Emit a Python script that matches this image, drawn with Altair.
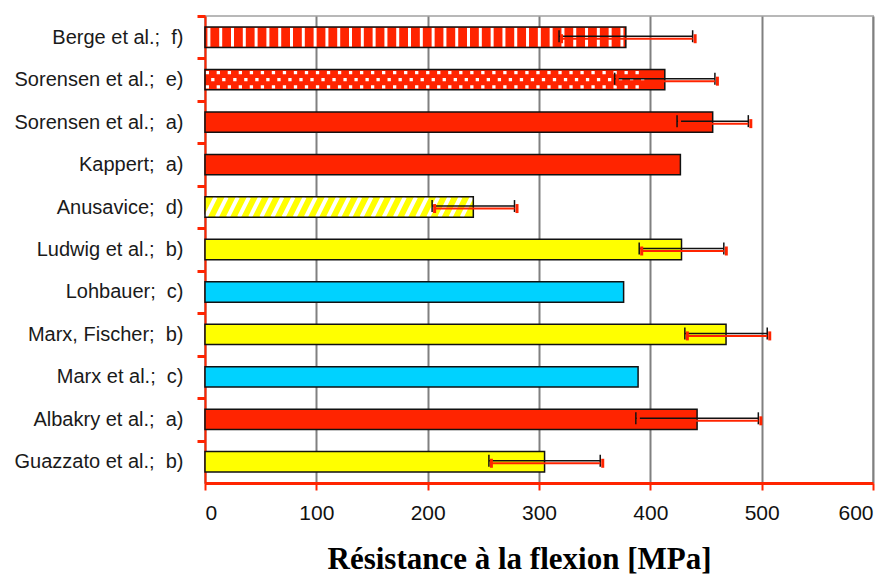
import altair as alt
import pandas as pd

# Flexural strength by study (MPa), listed top to bottom
labels = [
    "Berge et al.;\u00a0 f)",
    "Sorensen et al.;\u00a0 e)",
    "Sorensen et al.;\u00a0 a)",
    "Kappert;\u00a0 a)",
    "Anusavice;\u00a0 d)",
    "Ludwig et al.;\u00a0 b)",
    "Lohbauer;\u00a0 c)",
    "Marx, Fischer;\u00a0 b)",
    "Marx et al.;\u00a0 c)",
    "Albakry et al.;\u00a0 a)",
    "Guazzato et al.;\u00a0 b)",
]
values = [378, 413, 456, 427, 241, 428, 376, 468, 389, 442, 305]
errors = [60, 45, 32, None, 37, 38, None, 37, None, 55, 50]
fills = ["#FF2400", "#FF2400", "#FF2400", "#FF2400", "#FFFF00", "#FFFF00",
         "#00D2FF", "#FFFF00", "#00D2FF", "#FF2400", "#FFFF00"]
patterns = ["stripes", "dots", "", "", "diagonal", "", "", "", "", "", ""]

df = pd.DataFrame({
    "label": labels,
    "value": values,
    "err": errors,
    "fill": fills,
    "pattern": patterns,
})
df["lo"] = df["value"] - df["err"]
df["hi"] = df["value"] + df["err"]

PLOT_H = 467
STEP = PLOT_H / len(labels)

y_enc = alt.Y(
    "label:N",
    sort=labels,
    scale=alt.Scale(paddingInner=0.52, paddingOuter=0.26),
    axis=alt.Axis(
        title=None,
        domainColor="#FF2400",
        domainWidth=2,
        tickColor="#FF2400",
        tickWidth=3,
        tickSize=8,
        tickOffset=-STEP / 2,
        labelOffset=STEP / 2,
        labelFont="Liberation Sans",
        labelFontSize=20,
        labelColor="#1a1a1a",
        labelPadding=14,
        grid=False,
    ),
)
x_scale = alt.Scale(domain=[0, 600], nice=False)
x_enc = alt.X(
    "value:Q",
    scale=x_scale,
    axis=alt.Axis(
        values=[0, 100, 200, 300, 400, 500, 600],
        title="Résistance à la flexion [MPa]",
        titleFont="Liberation Serif",
        titleFontSize=31,
        titleFontWeight="bold",
        titleColor="black",
        titleX=314,
        titleY=85,
        titleBaseline="alphabetic",
        titleAnchor="middle",
        labelFont="Liberation Sans",
        labelFontSize=21,
        labelColor="#111111",
        labelPadding=12,
        domainColor="#FF2400",
        domainWidth=3,
        tickColor="#FF2400",
        tickWidth=2,
        tickSize=7,
        grid=True,
        gridColor="#808080",
        gridWidth=2,
    ),
)

base = alt.Chart(df)
y_plain = alt.Y("label:N", sort=labels)

bars = base.mark_bar(strokeWidth=0).encode(
    x=x_enc,
    y=y_enc,
    color=alt.Color("fill:N", scale=None),
)

# Vertical white stripes
stripes = (
    base.transform_filter("datum.pattern == 'stripes'")
    .transform_calculate(pos="sequence(3.5, datum.value - 2, 10.6)")
    .transform_flatten(["pos"])
    .mark_point(shape="M0,-1L0,1", size=361, stroke="white", strokeWidth=3,
                filled=False, opacity=1)
    .encode(x=alt.X("pos:Q", scale=x_scale), y=y_plain)
)

# White dot texture, three staggered rows
dots = (
    base.transform_filter("datum.pattern == 'dots'")
    .transform_calculate(pos="sequence(9, datum.value - 8, 19.8)")
    .transform_flatten(["pos"])
    .mark_point(
        shape=(
            "M-0.85,-0.8h0.3v0.3h-0.3z M0.15,-0.8h0.3v0.3h-0.3z "
            "M-0.35,-0.15h0.3v0.3h-0.3z M0.65,-0.15h0.3v0.3h-0.3z "
            "M-0.85,0.5h0.3v0.3h-0.3z M0.15,0.5h0.3v0.3h-0.3z"
        ),
        size=484, fill="white", filled=True, strokeWidth=0, opacity=1,
    )
    .encode(x=alt.X("pos:Q", scale=x_scale), y=y_plain)
)

# Diagonal white hatching
diag = (
    base.transform_filter("datum.pattern == 'diagonal'")
    .transform_calculate(pos="sequence(5, datum.value - 5, 10)")
    .transform_flatten(["pos"])
    .mark_point(shape="M-0.5,1L0.5,-1", size=400, stroke="white",
                strokeWidth=4, filled=False, opacity=1)
    .encode(x=alt.X("pos:Q", scale=x_scale), y=y_plain)
)

outline = base.mark_bar(fillOpacity=0, stroke="#111111", strokeWidth=1.5).encode(
    x=alt.X("value:Q", scale=x_scale), y=y_plain
)

err_base = base.transform_filter("isValid(datum.err)")

err_black = err_base.mark_rule(color="#111111", strokeWidth=1.5, yOffset=-1).encode(
    x=alt.X("lo:Q", scale=x_scale), x2="hi:Q", y=y_plain
)
err_red = err_base.mark_rule(color="#FF2400", strokeWidth=2, yOffset=1.5, xOffset=2).encode(
    x=alt.X("lo:Q", scale=x_scale), x2="hi:Q", y=y_plain
)
caps = err_base.transform_fold(["lo", "hi"], as_=["end", "pos"])
caps_black = caps.mark_tick(orient="vertical", size=12, thickness=1.5,
                            color="#111111", yOffset=-1, opacity=1).encode(
    x=alt.X("pos:Q", scale=x_scale), y=y_plain
)
caps_red = caps.mark_tick(orient="vertical", size=9, thickness=3,
                          color="#FF2400", yOffset=1.5, xOffset=2.5, opacity=1).encode(
    x=alt.X("pos:Q", scale=x_scale), y=y_plain
)

chart = (
    alt.layer(bars, stripes, dots, diag, outline, err_black, caps_black, err_red, caps_red)
    .properties(
        width=668,
        height=PLOT_H,
        autosize=alt.AutoSizeParams(type="none"),
        padding={"left": 205, "top": 16, "right": 15, "bottom": 92},
        background="white",
    )
    .configure_view(stroke="#b8b8b8", strokeWidth=2)
)

chart.save("out.html", embed_options={"renderer": "svg", "actions": False})
